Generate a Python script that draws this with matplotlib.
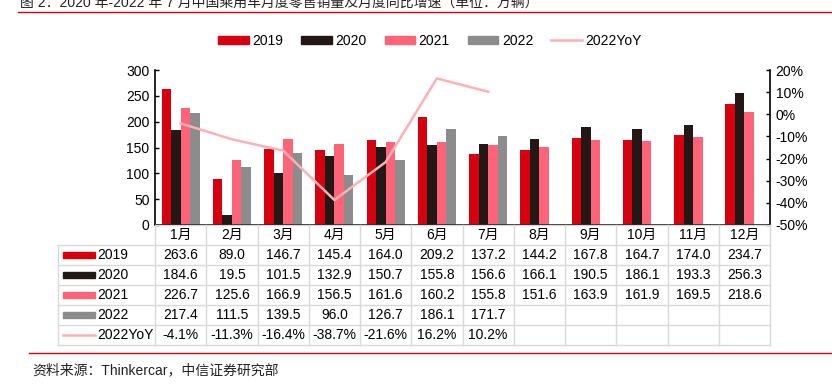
import matplotlib
matplotlib.use("Agg")
import matplotlib.pyplot as plt
import matplotlib.transforms as mtransforms
from matplotlib.patches import Rectangle
from matplotlib.lines import Line2D
import numpy as np

plt.rcParams['font.family'] = ['Liberation Sans', 'Noto Sans CJK SC', 'DejaVu Sans']

# data
months = ['1月', '2月', '3月', '4月', '5月', '6月', '7月', '8月', '9月', '10月', '11月', '12月']
sales_2019 = [263.6, 89.0, 146.7, 145.4, 164.0, 209.2, 137.2, 144.2, 167.8, 164.7, 174.0, 234.7]
sales_2020 = [184.6, 19.5, 101.5, 132.9, 150.7, 155.8, 156.6, 166.1, 190.5, 186.1, 193.3, 256.3]
sales_2021 = [226.7, 125.6, 166.9, 156.5, 161.6, 160.2, 155.8, 151.6, 163.9, 161.9, 169.5, 218.6]
sales_2022 = [217.4, 111.5, 139.5, 96.0, 126.7, 186.1, 171.7]
yoy_2022 = [-4.1, -11.3, -16.4, -38.7, -21.6, 16.2, 10.2]

series = [('2019', sales_2019, '#D7000F'),
          ('2020', sales_2020, '#231815'),
          ('2021', sales_2021, '#FF6378'),
          ('2022', sales_2022, '#8C8C8C')]
yoy_color = '#FFB0B5'

W, H = 832, 384
fig = plt.figure(figsize=(W / 100, H / 100), dpi=100)

def fx(x):
    return x / W

def fy(y):
    return 1 - y / H

ax = fig.add_axes([fx(155), fy(225), fx(770) - fx(155), fy(70) - fy(225)])
ax2 = ax.twinx()

x = np.arange(len(months))
w = 0.185
for k, (name, vals, col) in enumerate(series):
    ax.bar(x[:len(vals)] + (k - 1.5) * w, vals, width=w, color=col, zorder=2)

ax2.plot(x[:len(yoy_2022)], yoy_2022, color=yoy_color, lw=1.8, zorder=3)

ax.set_xlim(-0.5, len(months) - 0.5)
ax.set_ylim(0, 300)
ax.set_yticks(range(0, 301, 50))
ax2.set_ylim(-50, 20)
ax2.set_yticks(range(-50, 21, 10))
ax2.set_yticklabels([f'{v}%' for v in range(-50, 21, 10)])
ax.set_xticks([])
for a in (ax, ax2):
    a.tick_params(axis='y', direction='in', length=3, width=1, labelsize=10, pad=4)
    a.spines['top'].set_visible(False)
ax.spines['left'].set_linewidth(1.2)
ax2.spines['right'].set_linewidth(1.2)
ax.spines['bottom'].set_linewidth(1.2)
ax.spines['right'].set_visible(False)
ax2.spines['left'].set_visible(False)
ax2.spines['bottom'].set_visible(False)

# legend
handles = [Rectangle((0, 0), 1, 1, color=c) for _, _, c in series]
handles.append(Line2D([0], [0], color=yoy_color, lw=1.8))
labels = [s[0] for s in series] + ['2022YoY']
fig.legend(handles, labels, loc='center', bbox_to_anchor=(fx(430), fy(41)), ncol=5,
           frameon=False, fontsize=10, handlelength=2.2, handleheight=0.55,
           handletextpad=0.25, columnspacing=1.3)

# data table under the chart
trans = mtransforms.blended_transform_factory(ax.transData, fig.transFigure)
grid_col = '#D9D9D9'
rows_top = [225, 245, 265, 285, 305, 325, 345]
# horizontal lines
for i, yy in enumerate(rows_top):
    x0 = fx(155) if i == 0 else fx(58)
    fig.add_artist(Line2D([x0, fx(770)], [fy(yy), fy(yy)], color=grid_col, lw=1))
# vertical lines
for b in np.arange(-0.5, len(months), 1.0):
    fig.add_artist(Line2D([b, b], [fy(225), fy(345)], color=grid_col, lw=1, transform=trans))
fig.add_artist(Line2D([fx(58), fx(58)], [fy(245), fy(345)], color=grid_col, lw=1))

for i, m in enumerate(months):
    fig.text(i, fy(235), m, transform=trans, ha='center', va='center', fontsize=10)

table_rows = [(s[0], s[1], s[2], 'bar') for s in series]
table_rows.append(('2022YoY', [f'{v}%' for v in yoy_2022], yoy_color, 'line'))
for r, (name, vals, col, kind) in enumerate(table_rows):
    yc = (rows_top[r + 1] + rows_top[r + 2]) / 2
    if kind == 'bar':
        fig.add_artist(Rectangle((fx(63), fy(yc + 3)), fx(95) - fx(63), fy(yc - 3) - fy(yc + 3),
                                 transform=fig.transFigure, color=col))
    else:
        fig.add_artist(Line2D([fx(63), fx(95)], [fy(yc), fy(yc)], color=col, lw=1.8))
    fig.text(fx(97), fy(yc), name, ha='left', va='center', fontsize=10)
    for i, v in enumerate(vals):
        s = v if isinstance(v, str) else f'{v:.1f}'
        fig.text(i, fy(yc), s, transform=trans, ha='center', va='center', fontsize=10)

# title and source
fig.text(fx(20), fy(3), '图 2：2020 年-2022 年 7 月中国乘用车月度零售销量及月度同比增速（单位：万辆）',
         ha='left', va='center', fontsize=10, color='#222222')
fig.add_artist(Line2D([fx(18), 1], [fy(12), fy(12)], color='#D7000F', lw=1))
fig.add_artist(Line2D([fx(29), 1], [fy(353), fy(353)], color='#D7000F', lw=1))
fig.text(fx(32), fy(370), '资料来源：Thinkercar，中信证券研究部', ha='left', va='center',
         fontsize=10, color='#222222')

fig.savefig('out.png', dpi=100)
